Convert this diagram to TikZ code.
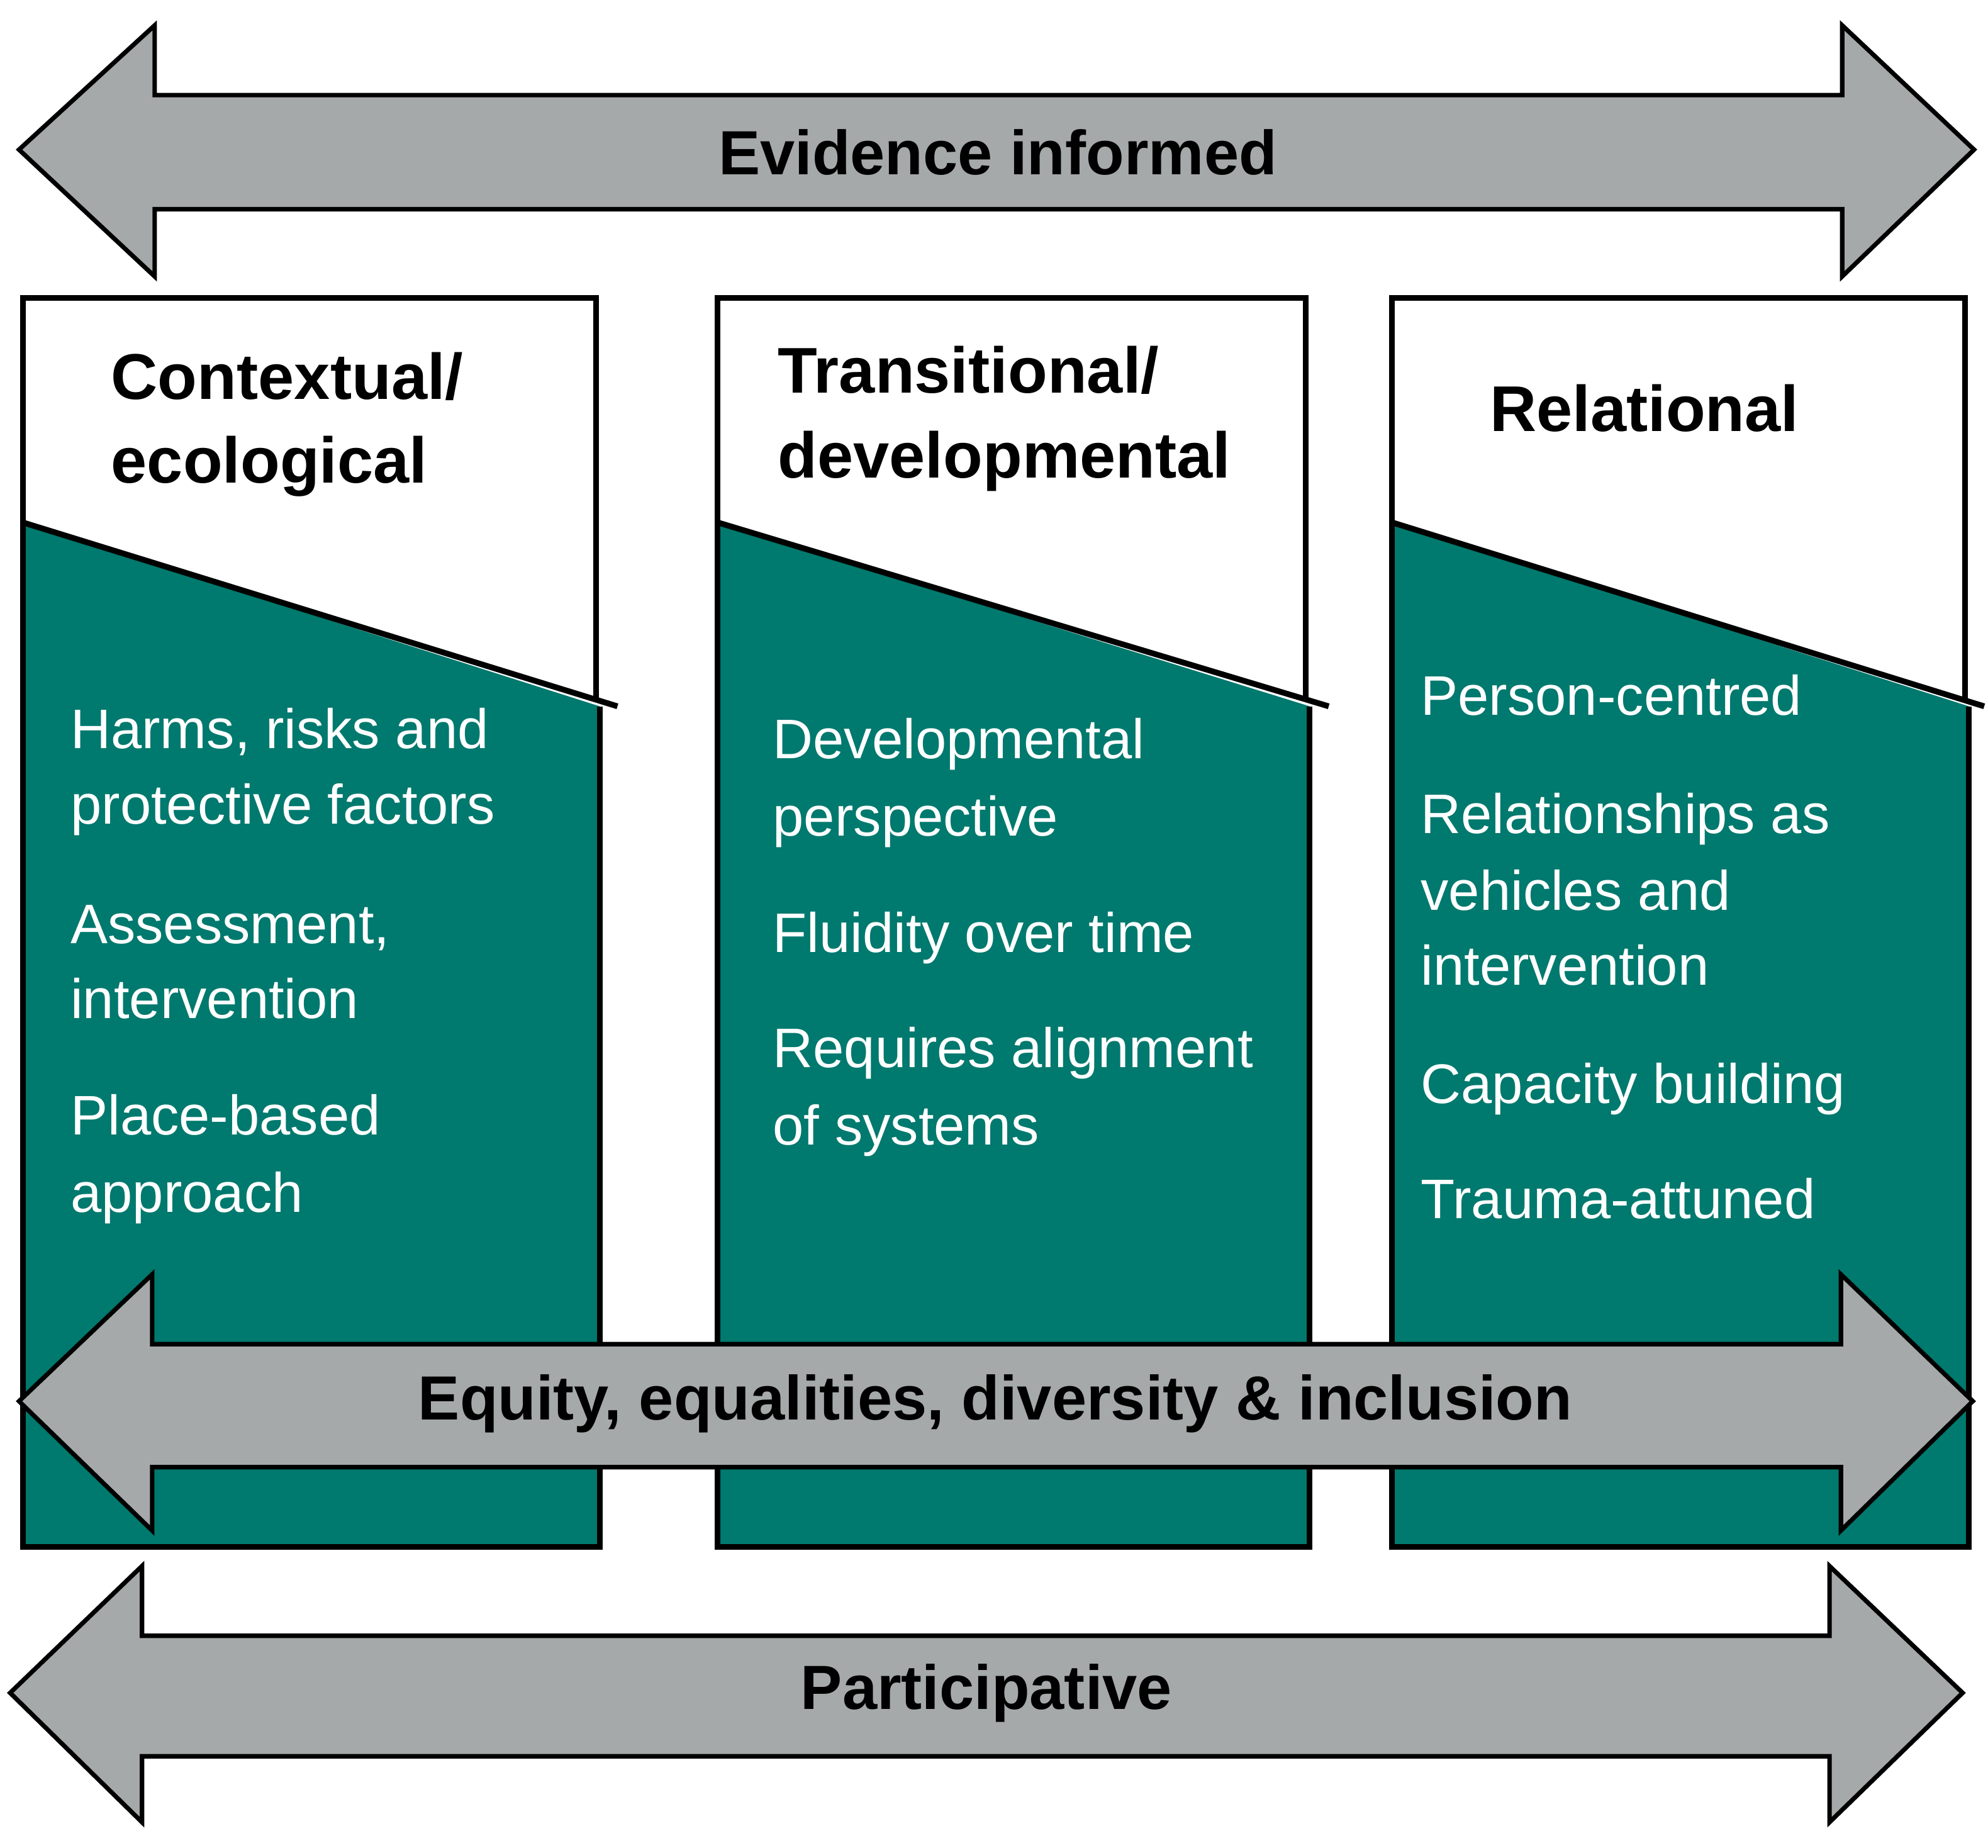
\documentclass[tikz,border=0pt]{standalone}
\usepackage{fontspec}
\setmainfont{Liberation Sans}
\begin{document}
\definecolor{teal}{RGB}{0,121,110}
\definecolor{agray}{RGB}{166,169,170}
\begin{tikzpicture}[x=0.01cm,y=-0.01cm,
  arr/.style={fill=agray,draw=black,line width=1pt,line join=miter},
  box/.style={draw=black,line width=1.3pt},
  title/.style={font=\fontsize{14.5}{19}\selectfont\bfseries,anchor=base west,inner sep=0},
  atext/.style={font=\fontsize{14}{17}\selectfont\bfseries,inner sep=0},
  body/.style={font=\fontsize{12.5}{17}\selectfont,text=white,anchor=base west,inner sep=0}]
\useasboundingbox (0,0) rectangle (1568,1457);
% top arrow
\draw[arr] (15,118) -- (122,20) -- (122,75) -- (1453,75) -- (1453,20) -- (1557,118) -- (1453,218) -- (1453,165) -- (122,165) -- (122,218) -- cycle;
\node[atext] (ev) at (787,120) {Evidence informed};
% boxes
\foreach \l/\r/\e in {18/470/487, 566/1030/1048, 1098/1550/1565}{
  \fill[white] (\l,235) rectangle (\r,1220);
  \fill[teal] (\l,412) -- (\r+3,557) -- (\r+3,1220) -- (\l,1220) -- cycle;
  \draw[box] (\r+3,557) -- (\r+3,1220) -- (\l,1220) -- (\l,235) -- (\r,235) -- (\r,552);
  \draw[line width=1.3pt] (\l,412) -- (\e,557);
}
\node[title] (t1a) at (87,315) {Contextual/};
\node[title] (t1b) at (87,381) {ecological};
\node[title] (t2a) at (613,310) {Transitional/};
\node[title] (t2b) at (613,377) {developmental};
\node[title,anchor=base] (t3) at (1297,340) {Relational};
\node[body] (a1) at (55,590) {Harms, risks and};
\node[body] (a2) at (55,650) {protective factors};
\node[body] (a3) at (55,744) {Assessment,};
\node[body] (a4) at (55,803) {intervention};
\node[body] (a5) at (55,895) {Place-based};
\node[body] (a6) at (55,956) {approach};
\node[body] (b1) at (609,598) {Developmental};
\node[body] (b2) at (609,659) {perspective};
\node[body] (b3) at (609,751) {Fluidity over time};
\node[body] (b4) at (609,842) {Requires alignment};
\node[body] (b5) at (609,903) {of systems};
\node[body] (c1) at (1120,564) {Person-centred};
\node[body] (c2) at (1120,657) {Relationships as};
\node[body] (c3) at (1120,718) {vehicles and};
\node[body] (c4) at (1120,777) {intervention};
\node[body] (c5) at (1120,870) {Capacity building};
\node[body] (c6) at (1120,961) {Trauma-attuned};
% middle arrow
\draw[arr] (15,1105) -- (120,1005) -- (120,1060) -- (1452,1060) -- (1452,1005) -- (1556,1105) -- (1452,1207) -- (1452,1157) -- (120,1157) -- (120,1207) -- cycle;
\node[atext] (eq) at (785,1107) {Equity, equalities, diversity \& inclusion};
% bottom arrow
\draw[arr] (8,1335) -- (112,1235) -- (112,1290) -- (1443,1290) -- (1443,1235) -- (1548,1335) -- (1443,1437) -- (1443,1385) -- (112,1385) -- (112,1437) -- cycle;
\node[atext] (pa) at (778,1335) {Participative};
\end{tikzpicture}
\end{document}
